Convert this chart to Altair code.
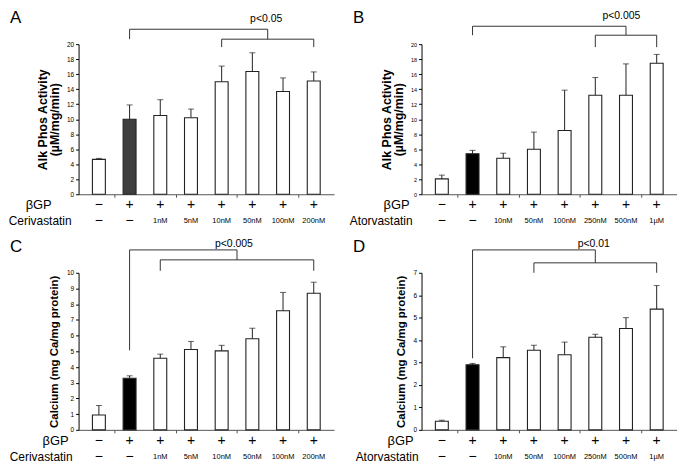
import altair as alt
import pandas as pd

FONT = "Liberation Sans"
W = 257
HT = 151
HB = 158

# ---- data ----
bgp_signs = ["\u2212", "+", "+", "+", "+", "+", "+", "+"]
drug_first = ["\u2212", "\u2212"]
ceri_doses = ["1nM", "5nM", "10nM", "50nM", "100nM", "200nM"]
atorva_doses = ["10nM", "50nM", "100nM", "250nM", "500nM", "1\u00b5M"]

alp_ceri = [4.65, 10.0, 10.5, 10.2, 15.0, 16.35, 13.7, 15.1]
alp_ceri_top = [4.78, 11.9, 12.6, 11.35, 17.08, 18.85, 15.5, 16.3]

alp_atorva = [2.05, 5.4, 4.8, 6.0, 8.5, 13.2, 13.2, 17.45]
alp_atorva_top = [2.55, 5.85, 5.47, 8.28, 13.87, 15.55, 17.37, 18.63]

ca_ceri = [0.95, 3.28, 4.56, 5.12, 5.03, 5.8, 7.58, 8.7]
ca_ceri_top = [1.55, 3.44, 4.82, 5.63, 5.38, 6.47, 8.75, 9.4]

ca_atorva = [0.38, 2.9, 3.22, 3.55, 3.35, 4.13, 4.52, 5.38]
ca_atorva_top = [0.43, 2.96, 3.7, 3.77, 3.91, 4.26, 5.0, 6.43]


def seg(x, x2=None, y=0, y2=None):
    one = alt.Chart(pd.DataFrame({"a": [0]}))
    enc = {"x": alt.datum(x), "y": alt.value(y)}
    if x2 is not None:
        enc["x2"] = alt.datum(x2)
    if y2 is not None:
        enc["y2"] = alt.value(y2)
    return one.mark_rule(color="#333", strokeWidth=1).encode(**enc)


def panel(letter, values, tops, doses, drug_name, ymax, ystep, H, ytitle,
          title_size, bar2_color, br, ptext, ptext_x, ptext_y,
          bgp_dx, drug_dx, title_pad, label_size):
    df = pd.DataFrame({
        "pos": [i + 0.5 for i in range(8)],
        "value": values,
        "top": tops,
        "bgp": bgp_signs,
        "drug": drug_first + doses,
        "kind": ["sign"] * 2 + ["dose"] * 6,
        "fill": ["white", bar2_color] + ["white"] * 6,
    })
    base = alt.Chart(df)
    xaxis = alt.Axis(values=list(range(1, 9)), labels=False, title=None,
                     tickSize=3, grid=False, domainColor="#555",
                     tickColor="#555")
    yaxis = alt.Axis(values=list(range(0, ymax + 1, ystep)), grid=False,
                     title=ytitle, titleFontSize=title_size,
                     titleFontWeight="bold", titleLineHeight=title_size,
                     titlePadding=title_pad, titleColor="black",
                     labelFontSize=label_size, labelPadding=2,
                     tickSize=3, labelOverlap=False, labelFlush=False,
                     labelBound=False, domainColor="black",
                     tickColor="black", labelColor="black")
    xs = alt.Scale(domain=[0, 8], nice=False, zero=False)
    ys = alt.Scale(domain=[0, ymax], nice=False)
    X = alt.X("pos:Q", scale=xs, axis=xaxis)
    bars = base.mark_bar(size=13, stroke="#222", strokeWidth=1.1).encode(
        x=X, y=alt.Y("value:Q", scale=ys, axis=yaxis),
        fill=alt.Fill("fill:N", scale=None))
    err = base.mark_rule(color="#222").encode(
        x=X, y=alt.Y("value:Q", scale=ys, axis=yaxis), y2="top:Q")
    cap = base.mark_tick(orient="horizontal", size=6, thickness=1,
                         color="#222").encode(
        x=X, y=alt.Y("top:Q", scale=ys, axis=yaxis))
    bgp_t = base.mark_text(fontSize=14, font=FONT, baseline="middle",
                           color="black").encode(
        x=X, y=alt.value(H + 11), text="bgp:N")
    sign_t = base.transform_filter("datum.kind == 'sign'").mark_text(
        fontSize=14, font=FONT, baseline="middle", color="black").encode(
        x=X, y=alt.value(H + 27), text="drug:N")
    dose_t = base.transform_filter("datum.kind == 'dose'").mark_text(
        fontSize=7.5, font=FONT, baseline="middle", color="black").encode(
        x=X, y=alt.value(H + 27), text="drug:N")
    one = alt.Chart(pd.DataFrame({"a": [0]}))
    hdr1 = one.mark_text(fontSize=13, font=FONT, align="right",
                         baseline="middle", color="black").encode(
        x=alt.value(bgp_dx), y=alt.value(H + 11), text=alt.value("\u03b2GP"))
    hdr2 = one.mark_text(fontSize=12, font=FONT, align="right",
                         baseline="middle", color="black").encode(
        x=alt.value(drug_dx), y=alt.value(H + 27), text=alt.value(drug_name))
    let = one.mark_text(fontSize=17, font=FONT, align="left",
                        baseline="top", color="black").encode(
        x=alt.value(-69), y=alt.value(-34), text=alt.value(letter))
    # brackets: (left, junction, a, b, ytop, yleft_bottom, ysec, ysec_bottom)
    l, j, a, b, ytop, ylb, ysec, ysb = br
    brs = [
        seg(l, j, ytop),
        seg(l, None, ytop, ylb),
        seg(j, None, ytop, ysec),
        seg(a, b, ysec),
        seg(a, None, ysec, ysb),
        seg(b, None, ysec, ysb),
    ]
    pt = one.mark_text(fontSize=10.5, font=FONT, baseline="middle",
                       color="black").encode(
        x=alt.datum(ptext_x), y=alt.value(ptext_y), text=alt.value(ptext))
    return alt.layer(bars, err, cap, bgp_t, sign_t, dose_t, hdr1, hdr2, let,
                     pt, *brs).properties(width=W, height=H)


pA = panel("A", alp_ceri, alp_ceri_top, ceri_doses, "Cerivastatin", 20, 2, HT,
           ["Alk Phos Activity", "(\u00b5M/mg/min)"], 12.5, "#3e3e3e",
           (1.5, 6.0, 4.5, 7.5, -15, -5, -5, 3), "p<0.05", 5.95, -25,
           -27, -7, 5, 6.5)
pB = panel("B", alp_atorva, alp_atorva_top, atorva_doses, "Atorvastatin", 20,
           2, HT, ["Alk Phos Activity", "(\u00b5M/mg/min)"], 12.5, "black",
           (1.5, 6.5, 5.5, 7.5, -18, -9, -9, 3), "p<0.005", 6.35, -28,
           -12, -9, 5, 5.5)
pC = panel("C", ca_ceri, ca_ceri_top, ceri_doses, "Cerivastatin", 10, 1, HB,
           "Calcium (mg Ca/mg protein)", 11.5, "black",
           (1.5, 5.0, 2.5, 7.5, -23, 78, -13, -2), "p<0.005", 4.9, -29,
           -10, -6, 7, 6.5)
pD = panel("D", ca_atorva, ca_atorva_top, atorva_doses, "Atorvastatin", 7, 1,
           HB, "Calcium (mg Ca/mg protein)", 11.5, "black",
           (1.5, 5.5, 3.5, 7.5, -23, 86, -10, 0), "p<0.01", 5.45, -29,
           -8, -3, 7, 6.5)

chart = alt.concat(pA, pB, pC, pD, columns=2,
                   spacing={"row": 79, "column": 88}).properties(
    bounds="flush", padding=0
).configure_view(stroke=None).configure_axis(
    labelFont=FONT, titleFont=FONT, labelOverlap=False
).configure_text(font=FONT)

chart.save("out.html", embed_options={"renderer": "svg", "actions": False})
